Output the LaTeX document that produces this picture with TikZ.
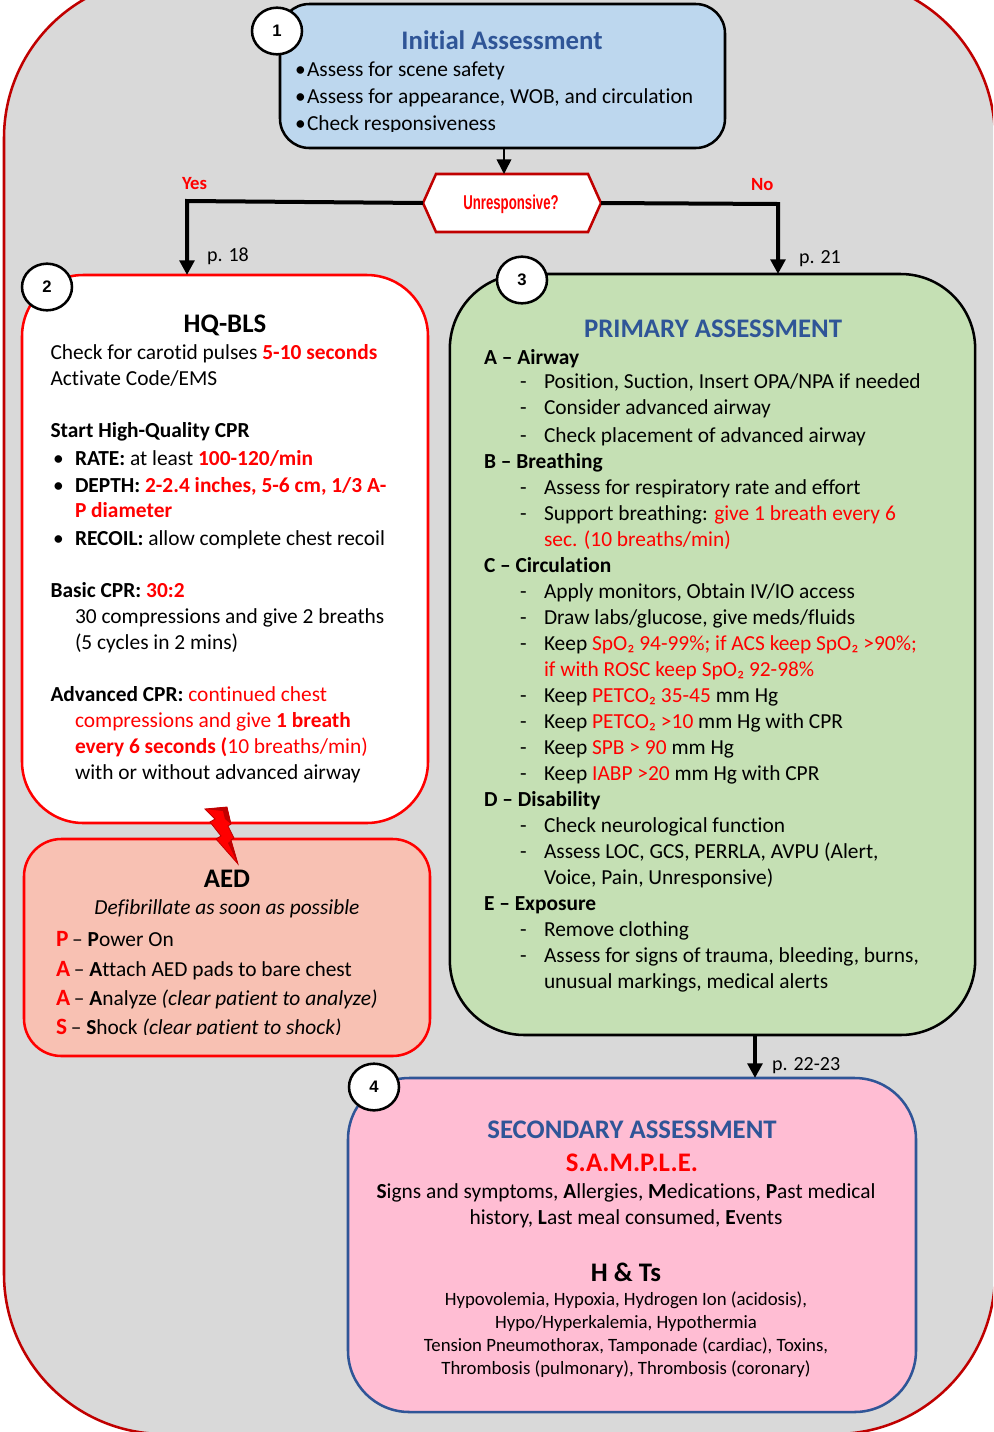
\documentclass[tikz,border=0pt]{standalone}
\usepackage{fontspec}
\usepackage{graphicx}
\setmainfont[Ligatures={NoCommon}]{Carlito}
\newfontfamily\arialf{Liberation Sans}
\usetikzlibrary{arrows.meta,shapes.geometric}
\definecolor{bgray}{HTML}{D9D9D9}
\definecolor{dred}{HTML}{C00000}
\definecolor{tblue}{HTML}{2F5597}
\definecolor{cblue}{HTML}{BDD7EE}
\definecolor{cgreen}{HTML}{C5E0B4}
\definecolor{csal}{HTML}{F8C1B3}
\definecolor{cpink}{HTML}{FFBDD3}
\newcommand{\rd}[1]{\textcolor{red}{#1}}
\newcommand{\szb}{\fontsize{16.05}{18}\selectfont}
\newcommand{\ttl}{\bfseries\fontsize{20.1}{22}\selectfont}
\newcommand{\szs}{\fontsize{14.1}{16}\selectfont}
\newcommand{\szp}{\fontsize{15}{17}\selectfont}
\newcommand{\aedl}[1]{\textbf{\rd{\fontsize{17.5}{18}\selectfont #1}}\kern-0.8pt\relax}
\newcounter{tn}
\newcommand{\tl}[3]{\stepcounter{tn}\node[txt] (t\arabic{tn}) at (#1,#2) {#3};}
\newcommand{\tc}[3]{\stepcounter{tn}\node[txtc] (t\arabic{tn}) at (#1,#2) {#3};}
\newcommand{\dl}[2]{\stepcounter{tn}\node[txt] (d\arabic{tn}) at (520,#1) {-};\tl{544}{#1}{#2}}
\tikzset{
  txt/.style={anchor=base west,inner sep=0pt,outer sep=0pt,font=\szb},
  txtc/.style={anchor=base,inner sep=0pt,outer sep=0pt,font=\szb},
  flowbox/.style={draw,line width=1.9pt,inner sep=0pt,outer sep=0pt},
  badge/.style={draw=black,fill=white,line width=1.9pt,ellipse,minimum width=37.5pt,minimum height=35pt,inner sep=0pt,font=\arialf\bfseries\fontsize{12.5}{14}\selectfont},
  link/.style={draw=black,line width=3pt,-{Triangle[length=11pt,width=11pt]}},
  thin link/.style={draw=black,line width=1.2pt,-{Triangle[length=11pt,width=11pt]}},
}
\begin{document}
\begin{tikzpicture}[x=0.75pt,y=-0.75pt]
\useasboundingbox (0,0) rectangle (993,1432);
\clip (0,0) rectangle (993,1432);
\fill[white] (0,0) rectangle (993,1432);
\draw[fill=bgray,draw=dred,line width=1.9pt,rounded corners=120pt] (4,-22) rectangle (995,1434);

% boxes
\node[flowbox,draw=black,fill=cblue,rounded corners=22pt,minimum width=333.75pt,minimum height=108pt] (box1) at (502.5,76) {};
\node[flowbox,draw=red,fill=white,rounded corners=46pt,minimum width=304.5pt,minimum height=411pt] (box2) at (225,549) {};
\node[flowbox,draw=red,fill=csal,rounded corners=28pt,minimum width=304.5pt,minimum height=162.75pt] (box5) at (227,947.5) {};
\node[flowbox,draw=black,fill=cgreen,rounded corners=56pt,minimum width=394pt,minimum height=570.75pt] (box3) at (712.5,654.5) {};
\node[flowbox,draw=tblue,fill=cpink,rounded corners=46pt,minimum width=426pt,minimum height=250.5pt] (box4) at (632,1245) {};

% hexagon
\coordinate (hw) at (423,203); \coordinate (he) at (601,203);
\draw[draw=dred,fill=white,line width=1.9pt] (hw) -- (436,174) -- (588,174) -- (he) -- (588,232) -- (436,232) -- cycle;
\node[inner sep=0pt,text=red,font=\arialf\bfseries\fontsize{15}{17}\selectfont] (hexlabel) at (511,204) {\scalebox{0.66}[1]{Unresponsive?}};
\coordinate (htop) at (504,174);

% connectors
\coordinate (cy) at (187,201);
\coordinate (cn) at (778,204);
\coordinate (c34) at (755,0);
\draw[thin link] (box1.south -| htop) -- (htop);
\draw[link,line join=miter] (hw) -- (cy) -- (box2.north -| cy);
\draw[link,line join=miter] (he) -- (cn) -- (box3.north -| cn);
\draw[link] (box3.south -| c34) -- (box4.north -| c34);

% badges
\node[badge] (n1) at (277,31) {1};
\node[badge] (n2) at (47,287) {2};
\node[badge] (n3) at (522,280) {3};
\node[badge] (n4) at (374,1087) {4};

% bolt
\draw[fill=red,draw=dred,line width=0.6pt] (205,809) -- (227,807) -- (231,824) -- (228,826) -- (234,838) -- (231,840) -- (238,864) -- (216,839) -- (221,836) -- (210,822) -- (215,819) -- cycle;
\fill[dred] (205,809) -- (227,807) -- (231,824) -- (225,819) -- (223,811) -- cycle;
\fill[dred] (234,838) -- (231,840) -- (238,864) -- (228,843) -- cycle;

% box 1 text
\tc{502}{49}{\ttl\textcolor{tblue}{Initial Assessment}}
\begin{scope}
\clip (285,50) rectangle (720,131.5);
\tl{295}{76.5}{•}\tl{307}{76.5}{Assess for scene safety}
\tl{295}{103.5}{•}\tl{307}{103.5}{Assess for appearance, WOB, and circulation}
\tl{295}{130}{•}\tl{307}{130}{Check responsiveness}
\end{scope}

% flow labels
\tl{182}{189}{\bfseries\fontsize{14}{16}\selectfont\rd{Yes}}
\tl{751}{190}{\bfseries\fontsize{14}{16}\selectfont\rd{No}}
\tl{207}{261}{\szp p. 18}
\tl{799}{263}{\szp p. 21}
\tl{772}{1070}{\szp p. 22-23}

% box 2 text
\tc{225}{332}{\ttl HQ-BLS}
\tl{50.5}{359}{Check for carotid pulses \textbf{\rd{5-10 seconds}}}
\tl{50.5}{385}{Activate Code/EMS}
\tl{50.5}{437}{\textbf{Start High-Quality CPR}}
\tl{53}{465}{•}\tl{75}{465}{\textbf{RATE:} at least \textbf{\rd{100-120/min}}}
\tl{53}{492}{•}\tl{75}{492}{\textbf{DEPTH: \rd{2-2.4 inches, 5-6 cm, 1/3 A-}}}
\tl{75}{517}{\textbf{\rd{P diameter}}}
\tl{53}{545}{•}\tl{75}{545}{\textbf{RECOIL:} allow complete chest recoil}
\tl{50.5}{597}{\textbf{Basic CPR: \rd{30:2}}}
\tl{75}{623}{30 compressions and give 2 breaths}
\tl{75}{649}{(5 cycles in 2 mins)}
\tl{50.5}{701}{\textbf{Advanced CPR:} \rd{continued chest}}
\tl{75}{727}{\rd{compressions and give \textbf{1 breath}}}
\tl{75}{753}{\rd{\textbf{every 6 seconds (}10 breaths/min)}}
\tl{75}{779}{with or without advanced airway}

% AED text
\tc{227}{887}{\ttl AED}
\tc{227}{914}{\itshape Defibrillate as soon as possible}
\tl{56}{946}{\aedl{P} – \textbf{P}ower On}
\tl{56}{976}{\aedl{A} – \textbf{A}ttach AED pads to bare chest}
\tl{56}{1005}{\aedl{A} – \textbf{A}nalyze \textit{(clear patient to analyze)}}
\begin{scope}
\clip (30,1010) rectangle (420,1034);
\tl{56}{1034}{\aedl{S} – \textbf{S}hock \textit{(clear patient to shock)}}
\end{scope}

% box 3 text
\tc{713}{337}{\ttl\textcolor{tblue}{PRIMARY ASSESSMENT}}
\tl{484}{364}{\textbf{A – Airway}}
\dl{388}{Position, Suction, Insert OPA/NPA if needed}
\dl{414}{Consider advanced airway}
\dl{442}{Check placement of advanced airway}
\tl{484}{468}{\textbf{B – Breathing}}
\dl{494}{Assess for respiratory rate and effort}
\dl{520}{Support breathing: \rd{give 1 breath every 6}}
\tl{544}{546}{\rd{sec. (10 breaths/min)}}
\tl{484}{572}{\textbf{C – Circulation}}
\dl{598}{Apply monitors, Obtain IV/IO access}
\dl{624}{Draw labs/glucose, give meds/fluids}
\dl{650}{Keep \rd{SpO₂ 94-99\%; if ACS keep SpO₂ >90\%;}}
\tl{544}{676}{\rd{if with ROSC keep SpO₂ 92-98\%}}
\dl{702}{Keep \rd{PETCO₂ 35-45} mm Hg}
\dl{728}{Keep \rd{PETCO₂ >10} mm Hg with CPR}
\dl{754}{Keep \rd{SPB > 90} mm Hg}
\dl{780}{Keep \rd{IABP >20} mm Hg with CPR}
\tl{484}{806}{\textbf{D – Disability}}
\dl{832}{Check neurological function}
\dl{858}{Assess LOC, GCS, PERRLA, AVPU (Alert,}
\tl{544}{884}{Voice, Pain, Unresponsive)}
\tl{484}{910}{\textbf{E – Exposure}}
\dl{936}{Remove clothing}
\dl{962}{Assess for signs of trauma, bleeding, burns,}
\tl{544}{988}{unusual markings, medical alerts}

% box 4 text
\tc{632}{1138}{\ttl\textcolor{tblue}{SECONDARY ASSESSMENT}}
\tc{632}{1171}{\ttl\rd{S.A.M.P.L.E.}}
\tc{626}{1198}{\textbf{S}igns and symptoms, \textbf{A}llergies, \textbf{M}edications, \textbf{P}ast medical}
\tc{626}{1224}{history, \textbf{L}ast meal consumed, \textbf{E}vents}
\tc{626}{1281}{\ttl H \& Ts}
\tc{626}{1305.5}{\szs Hypovolemia, Hypoxia, Hydrogen Ion (acidosis),}
\tc{626}{1328.5}{\szs Hypo/Hyperkalemia, Hypothermia}
\tc{626}{1351.5}{\szs Tension Pneumothorax, Tamponade (cardiac), Toxins,}
\tc{626}{1374.5}{\szs Thrombosis (pulmonary), Thrombosis (coronary)}
\end{tikzpicture}
\end{document}
